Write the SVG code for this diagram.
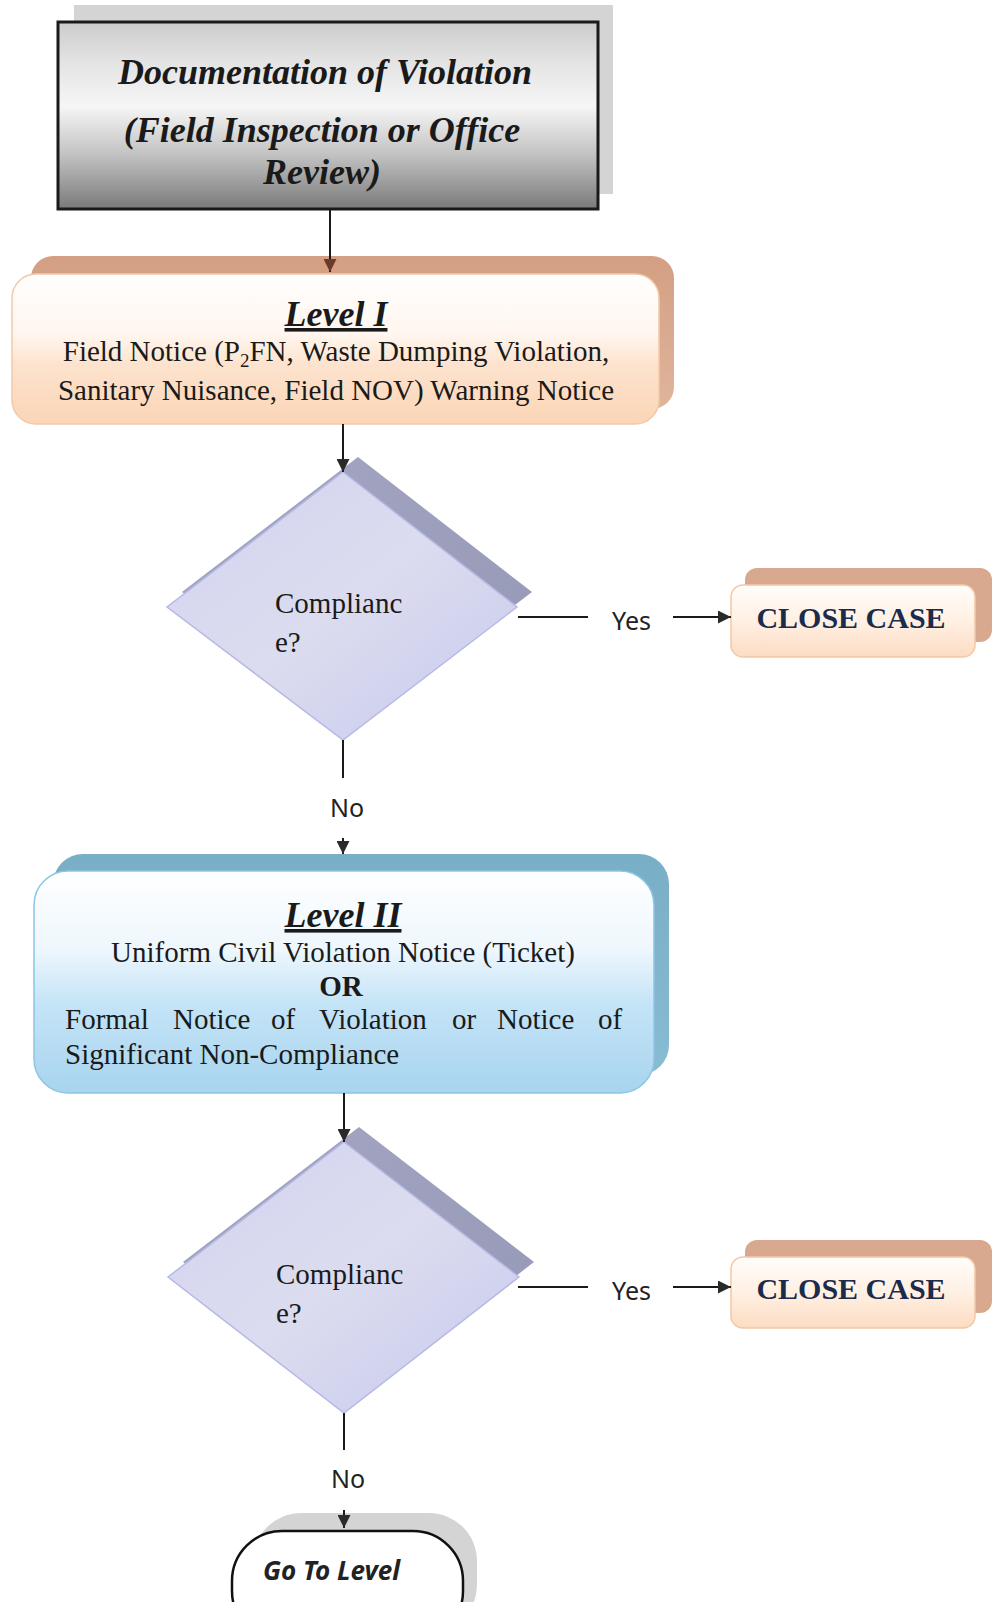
<svg xmlns="http://www.w3.org/2000/svg" width="995" height="1602" viewBox="0 0 995 1602">
  <defs>
    <linearGradient id="gGray" x1="0" y1="0" x2="0" y2="1">
      <stop offset="0" stop-color="#cbcbcb"/>
      <stop offset="0.2" stop-color="#e2e2e2"/>
      <stop offset="0.45" stop-color="#f6f6f6"/>
      <stop offset="0.7" stop-color="#c4c4c4"/>
      <stop offset="1" stop-color="#7a7a7a"/>
    </linearGradient>
    <linearGradient id="gPeach" x1="0" y1="0" x2="0" y2="1">
      <stop offset="0" stop-color="#fffefd"/>
      <stop offset="0.4" stop-color="#fff6ef"/>
      <stop offset="0.6" stop-color="#fde3ce"/>
      <stop offset="1" stop-color="#fbd5b6"/>
    </linearGradient>
    <linearGradient id="gPeach2" x1="0" y1="0" x2="0" y2="1">
      <stop offset="0" stop-color="#fffdfb"/>
      <stop offset="0.5" stop-color="#fff0e3"/>
      <stop offset="1" stop-color="#fcdcc2"/>
    </linearGradient>
    <linearGradient id="gTan" x1="0" y1="0" x2="0" y2="1">
      <stop offset="0" stop-color="#d49f83"/>
      <stop offset="1" stop-color="#dfb59c"/>
    </linearGradient>
    <linearGradient id="gBlue" x1="0" y1="0" x2="0" y2="1">
      <stop offset="0" stop-color="#ffffff"/>
      <stop offset="0.35" stop-color="#eef7fd"/>
      <stop offset="0.6" stop-color="#c4e4f7"/>
      <stop offset="1" stop-color="#a8d4ef"/>
    </linearGradient>
    <linearGradient id="gSteel" x1="0" y1="0" x2="0" y2="1">
      <stop offset="0" stop-color="#78aec6"/>
      <stop offset="1" stop-color="#88bcd3"/>
    </linearGradient>
    <linearGradient id="gLav" x1="0" y1="0" x2="1" y2="1">
      <stop offset="0" stop-color="#d2d4f0"/>
      <stop offset="0.5" stop-color="#dcdcef"/>
      <stop offset="1" stop-color="#c6c9ee"/>
    </linearGradient>
    <linearGradient id="gShadowD" x1="0" y1="0" x2="1" y2="1">
      <stop offset="0" stop-color="#a4a6c2"/>
      <stop offset="1" stop-color="#9598b6"/>
    </linearGradient>
    <marker id="arr" viewBox="0 0 10 10" refX="10" refY="5" markerWidth="15" markerHeight="13" markerUnits="userSpaceOnUse" orient="auto">
      <path d="M0,0 L10,5 L0,10 Z" fill="#2a2a2a"/>
    </marker>
    <marker id="arrBrown" viewBox="0 0 10 10" refX="10" refY="5" markerWidth="15" markerHeight="13" markerUnits="userSpaceOnUse" orient="auto">
      <path d="M0,0 L10,5 L0,10 Z" fill="#6a3a2a"/>
    </marker>
  </defs>
  <style>
    .serif { font-family: "Liberation Serif", "Times New Roman", serif; fill: #1a1a1a; }
    .title { font-size: 36px; font-weight: bold; font-style: italic; }
    .lvl { font-size: 36px; font-weight: bold; font-style: italic; text-decoration: underline; }
    .body { font-size: 29px; }
    .close { font-size: 30px; font-weight: bold; fill: #1b2b4c; }
    .sans { font-family: "Noto Sans", "Open Sans", sans-serif; fill: #222; }
    .lbl { font-size: 25px; }
    .line { stroke: #1a1a1a; stroke-width: 2; fill: none; }
  </style>

  <rect width="995" height="1602" fill="#ffffff"/>

  <g id="node-documentation">
    <rect x="74" y="5" width="539" height="189" fill="#d4d4d4"/>
    <rect x="58" y="22" width="540" height="187" fill="url(#gGray)" stroke="#1a1a1a" stroke-width="3"/>
    <text class="serif title" x="325" y="84" text-anchor="middle">Documentation of Violation</text>
    <text class="serif title" x="322" y="142" text-anchor="middle">(Field Inspection or Office</text>
    <text class="serif title" x="322" y="184" text-anchor="middle">Review)</text>
  </g>

  <g id="node-level1">
    <rect x="31" y="256" width="643" height="153" rx="22" fill="url(#gTan)"/>
    <rect x="12" y="274" width="647" height="150" rx="24" fill="url(#gPeach)" stroke="#f3c9a9" stroke-width="1.5"/>
    <text class="serif lvl" x="336" y="326" text-anchor="middle">Level I</text>
    <text class="serif body" x="336" y="361" text-anchor="middle">Field Notice (P<tspan font-size="19" dy="6">2</tspan><tspan dy="-6">FN, Waste Dumping Violation,</tspan></text>
    <text class="serif body" x="336" y="400" text-anchor="middle">Sanitary Nuisance, Field NOV) Warning Notice</text>
  </g>

  <g id="node-decision1">
    <polygon points="358,457 532,592 358,725 182,592" fill="url(#gShadowD)"/>
    <polygon points="343,472 517,607 343,740 167,607" fill="url(#gLav)" stroke="#b6bae4" stroke-width="1.5"/>
    <text class="serif body" x="275" y="613">Complianc</text>
    <text class="serif body" x="275" y="652">e?</text>
  </g>

  <g id="node-close1">
    <rect x="745" y="568" width="247" height="74" rx="12" fill="#d8a88f"/>
    <rect x="731" y="585" width="244" height="72" rx="12" fill="url(#gPeach2)" stroke="#f2c8a6" stroke-width="1.5"/>
    <text class="serif close" x="851" y="628" text-anchor="middle">CLOSE CASE</text>
  </g>

  <g id="node-level2">
    <rect x="53" y="854" width="616" height="221" rx="30" fill="url(#gSteel)"/>
    <rect x="34" y="871" width="620" height="222" rx="34" fill="url(#gBlue)" stroke="#8cc5e5" stroke-width="1.5"/>
    <text class="serif lvl" x="343" y="927" text-anchor="middle">Level II</text>
    <text class="serif body" x="343" y="962" text-anchor="middle">Uniform Civil Violation Notice (Ticket)</text>
    <text class="serif body" x="341" y="996" text-anchor="middle" font-weight="bold">OR</text>
    <text class="serif body" y="1029"><tspan x="65">Formal</tspan><tspan x="173">Notice</tspan><tspan x="271">of</tspan><tspan x="319">Violation</tspan><tspan x="452">or</tspan><tspan x="497">Notice</tspan><tspan x="598">of</tspan></text>
    <text class="serif body" x="65" y="1064">Significant Non-Compliance</text>
  </g>

  <g id="node-decision2">
    <polygon points="359,1127 534,1262 359,1398 183,1262" fill="url(#gShadowD)"/>
    <polygon points="344,1142 519,1277 344,1413 168,1277" fill="url(#gLav)" stroke="#b6bae4" stroke-width="1.5"/>
    <text class="serif body" x="276" y="1284">Complianc</text>
    <text class="serif body" x="276" y="1323">e?</text>
  </g>

  <g id="node-close2">
    <rect x="745" y="1240" width="247" height="73" rx="12" fill="#d8a88f"/>
    <rect x="731" y="1257" width="244" height="71" rx="12" fill="url(#gPeach2)" stroke="#f2c8a6" stroke-width="1.5"/>
    <text class="serif close" x="851" y="1299" text-anchor="middle">CLOSE CASE</text>
  </g>

  <g id="node-goto">
    <rect x="253" y="1513" width="224" height="120" rx="48" fill="#d4d4d4"/>
    <rect x="232" y="1531" width="231" height="110" rx="50" fill="#ffffff" stroke="#111111" stroke-width="2.5"/>
    <text class="sans" x="263" y="1580" font-size="26" font-weight="bold" font-style="italic" textLength="137" lengthAdjust="spacingAndGlyphs">Go To Level</text>
  </g>

  <g id="connectors">
    <line class="line" x1="330" y1="210" x2="330" y2="272" marker-end="url(#arrBrown)"/>
    <line class="line" x1="343" y1="424" x2="343" y2="472" marker-end="url(#arr)"/>
    <line class="line" x1="518" y1="617" x2="588" y2="617"/>
    <line class="line" x1="673" y1="617" x2="731" y2="617" marker-end="url(#arr)"/>
    <line class="line" x1="343" y1="740" x2="343" y2="778"/>
    <line class="line" x1="343" y1="838" x2="343" y2="854" marker-end="url(#arr)"/>
    <line class="line" x1="344" y1="1093" x2="344" y2="1142" marker-end="url(#arr)"/>
    <line class="line" x1="518" y1="1287" x2="588" y2="1287"/>
    <line class="line" x1="673" y1="1287" x2="731" y2="1287" marker-end="url(#arr)"/>
    <line class="line" x1="344" y1="1413" x2="344" y2="1450"/>
    <line class="line" x1="344" y1="1510" x2="344" y2="1528" marker-end="url(#arr)"/>
    <text class="sans lbl" x="612" y="630">Yes</text>
    <text class="sans lbl" x="612" y="1300">Yes</text>
    <text class="sans lbl" x="347" y="817" text-anchor="middle">No</text>
    <text class="sans lbl" x="348" y="1488" text-anchor="middle">No</text>
  </g>
</svg>
